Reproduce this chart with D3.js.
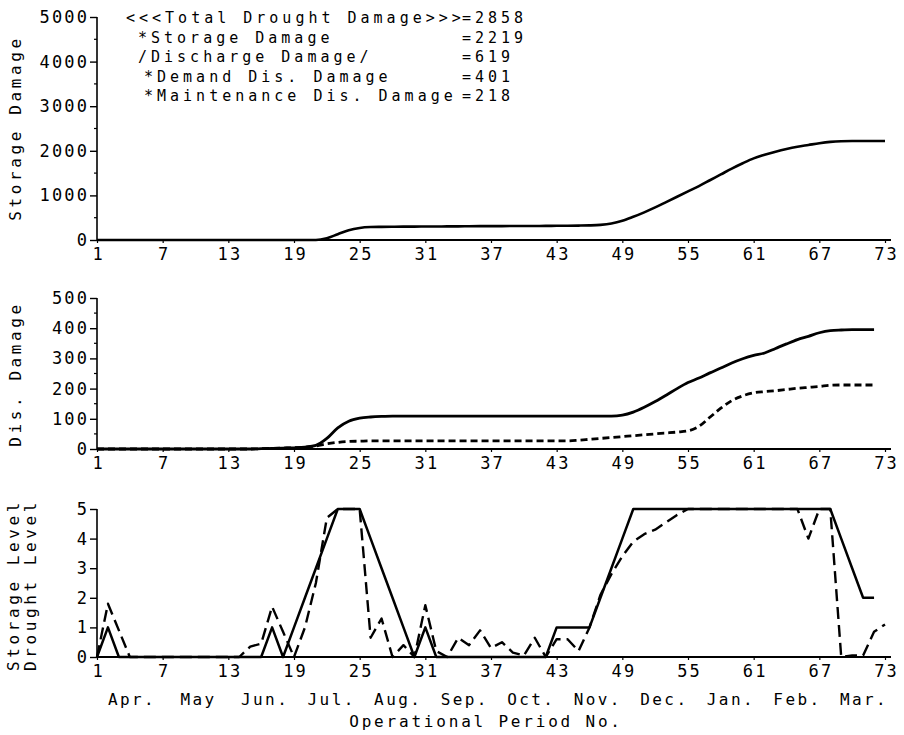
<!DOCTYPE html>
<html>
<head>
<meta charset="utf-8">
<script src="https://cdn.jsdelivr.net/npm/d3@7/dist/d3.min.js"></script>
<style>
  html, body { margin: 0; padding: 0; background: #fff; }
  svg { display: block; }
  text { font-family: "DejaVu Sans Mono", "Liberation Mono", monospace; fill: #000; }
</style>
</head>
<body>
<svg id="chart" width="904" height="735"></svg>
<script>
// ---------------- DATA ----------------
const xTicks = [1, 7, 13, 19, 25, 31, 37, 43, 49, 55, 61, 67, 73];
const months = ["Apr.", "May", "Jun.", "Jul.", "Aug.", "Sep.", "Oct.", "Nov.", "Dec.", "Jan.", "Feb.", "Mar."];

// Panel 1: cumulative storage damage, periods 1..73
const storageDamage = [
  0,0,0,0,0,0,0,0,0,0, 0,0,0,0,0,0,0,0,0,0, 0,
  40,130,220,270,290,295,298,300,300,302,303,305,306,308,310,311,312,313,314,315,316,318,320,323,328,
  340,370,430,520,620,730,850,970,1090,1210,1340,1470,1600,1720,1830,1910,1980,2040,2090,2130,2170,2200,
  2215,2219,2219,2219,2219
];
const storageTicks = [0, 1000, 2000, 3000, 4000, 5000];

// Panel 2: cumulative discharge damage, periods 1..72
const demandDisDamage = [
  0,0,0,0,0,0,0,0,0,0, 0,0,0,0,0,
  1,2,3,4,6,12,35,70,92,102,106,108,
  109,109,109,109,109,109,109,109,109,109,109,109,109,109,109,109,109,109,109,109,109,
  112,122,138,157,178,200,220,235,252,268,285,299,310,318,333,348,362,373,385,392,394,395,395,395
];
const maintDisDamage = [
  0,0,0,0,0,0,0,0,0,0, 0,0,0,0,0,
  1,2,3,4,6,10,17,22,25,26,27,
  27,27,27,27,27,27,27,27,27,27,27,27,27,27,27,27,27,27,
  29,32,35,38,41,44,47,50,53,56,60,75,105,135,160,176,186,190,193,197,201,204,207,211,212,212,212,212
];
const disTicks = [0, 100, 200, 300, 400, 500];

// Panel 3: storage level (solid, periods 1..72) and drought level (dashed, periods 1..73)
const storageLevel = [
  0,1,
  0,0,0,0,0,0,0,0,0,0,0,0,0,0,
  1,0,1,2,3,4,5,5,5,4,3,2,1,0,1,0,
  0,0,0,0,0,0,0,0,0,0,
  1,1,1,1,2,3,4,5,
  5,5,5,5,5,5,5,5,5,5,5,5,5,5,5,5,5,5,
  4,3,2,2
];
const droughtLevel = [
  0,1.8,0.9,0,
  0,0,0,0,0,0,0,0,0,0,
  0.35,0.45,1.7,0.85,0,1.0,2.5,4.7,5,5,5,0.65,1.3,0,0.4,0,1.75,0.2,0,0.65,0.4,0.9,0.3,0.5,0.15,0.05,
  0.65,0,0.6,0.6,0.2,1.0,2.1,2.8,3.4,3.9,4.15,4.3,4.55,4.8,5,
  5,5,5,5,5,5,5,5,5,5,
  4.0,5,5,0,0.05,0.05,0.85,1.1
];
const levelTicks = [0, 1, 2, 3, 4, 5];

const legendLabels = ["<<<Total Drought Damage>>>", "*Storage Damage", "/Discharge Damage/", "*Demand Dis. Damage", "*Maintenance Dis. Damage"];
const legendValues = ["=2858", "=2219", "=619", "=401", "=218"];
const legendIndent = [0, 1, 1, 1.5, 1.5];

// ---------------- LAYOUT ----------------
const svg = d3.select("#chart");
const x = d3.scaleLinear().domain([1, 73]).range([97, 885]);
const xEnd = 891;

const panels = [
  { y: d3.scaleLinear().domain([0, 5000]).range([240, 17]), ticks: storageTicks, minorStep: 500 },
  { y: d3.scaleLinear().domain([0, 500]).range([449, 298]), ticks: disTicks, minorStep: 50 },
  { y: d3.scaleLinear().domain([0, 5]).range([657, 509]), ticks: levelTicks, minorStep: null }
];

const tickFont = { size: "17px", ls: "2.2px" };

function drawAxes(p) {
  const y = p.y;
  const y0 = y(0);
  // y axis
  const ya = svg.append("g").attr("transform", `translate(${x(1)},0)`)
    .call(d3.axisLeft(y).tickValues(p.ticks).tickSize(7).tickPadding(3).tickFormat(d3.format("d")));
  ya.select(".domain").attr("stroke", "#000").attr("stroke-width", 1.6).attr("d", `M0,${y0}V${y.range()[1]}`);
  ya.selectAll(".tick line").attr("stroke", "#000").attr("stroke-width", 1.4);
  ya.selectAll(".tick text").attr("font-size", tickFont.size).attr("letter-spacing", tickFont.ls)
    .attr("font-family", "DejaVu Sans Mono").attr("fill", "#000").attr("dx", "2.2");
  if (p.minorStep) {
    const minors = d3.range(p.minorStep, y.domain()[1], p.minorStep).filter(v => !p.ticks.includes(v));
    svg.append("g").selectAll("line").data(minors).join("line")
      .attr("x1", x(1) - 3).attr("x2", x(1)).attr("y1", d => y(d)).attr("y2", d => y(d))
      .attr("stroke", "#000").attr("stroke-width", 1.2);
  }
  // x axis
  const xa = svg.append("g").attr("transform", `translate(0,${y0})`)
    .call(d3.axisBottom(x).tickValues(xTicks).tickSize(3).tickPadding(5).tickFormat(d3.format("d")));
  xa.select(".domain").attr("stroke", "#000").attr("stroke-width", 2).attr("d", `M${x(1)},0H${xEnd}`);
  xa.selectAll(".tick line").attr("stroke", "#000").attr("stroke-width", 1.2);
  xa.selectAll(".tick text").attr("font-size", tickFont.size).attr("letter-spacing", tickFont.ls)
    .attr("font-family", "DejaVu Sans Mono").attr("fill", "#000").attr("dx", "1.1");
}
panels.forEach(drawAxes);

function drawLine(values, p, opts) {
  const line = d3.line().x((d, i) => x(i + 1)).y(d => p.y(d)).curve(opts.curve || d3.curveLinear);
  svg.append("path").datum(values).attr("d", line)
    .attr("fill", "none").attr("stroke", "#000")
    .attr("stroke-width", opts.width)
    .attr("stroke-dasharray", opts.dash || null)
    .attr("stroke-linejoin", "round");
}

// Panel 1
drawLine(storageDamage, panels[0], { width: 2.6, curve: d3.curveMonotoneX });
// Panel 2
drawLine(demandDisDamage, panels[1], { width: 2.8, curve: d3.curveMonotoneX });
drawLine(maintDisDamage, panels[1], { width: 2.8, dash: "7,4", curve: d3.curveMonotoneX });
// Panel 3
drawLine(storageLevel, panels[2], { width: 2.5 });
drawLine(droughtLevel, panels[2], { width: 2.4, dash: "12,6" });

// Legend text block
const legendStyle = t => t.attr("font-size", "15px").attr("letter-spacing", "4px");
legendLabels.forEach((lab, i) => {
  const by = 23 + i * 19.6;
  legendStyle(svg.append("text").attr("x", 126 + legendIndent[i] * 12).attr("y", by).text(lab));
  legendStyle(svg.append("text").attr("x", 462).attr("y", by).text(legendValues[i]));
});

// Y axis titles
function yTitle(txt, cx, cy) {
  svg.append("text").attr("transform", `translate(${cx},${cy}) rotate(-90)`)
    .attr("text-anchor", "middle").attr("font-size", "16px").attr("letter-spacing", "3.6px")
    .text(txt);
}
yTitle("Storage Damage", 21, 128);
yTitle("Dis. Damage", 21, 374);
yTitle("Storage Level", 19, 585);
yTitle("Drought Level", 36, 585);

// Month labels (one month per ~6 operational periods)
svg.append("g").selectAll("text").data(months).join("text")
  .attr("x", (d, i) => x(4.2 + 6.08 * i)).attr("y", 705)
  .attr("text-anchor", "middle").attr("font-size", "16px").attr("letter-spacing", "2.4px")
  .text(d => d);

// X axis title
svg.append("text").attr("x", 486).attr("y", 727).attr("text-anchor", "middle")
  .attr("font-size", "16px").attr("letter-spacing", "2.8px").text("Operational Period No.");
</script>
</body>
</html>
